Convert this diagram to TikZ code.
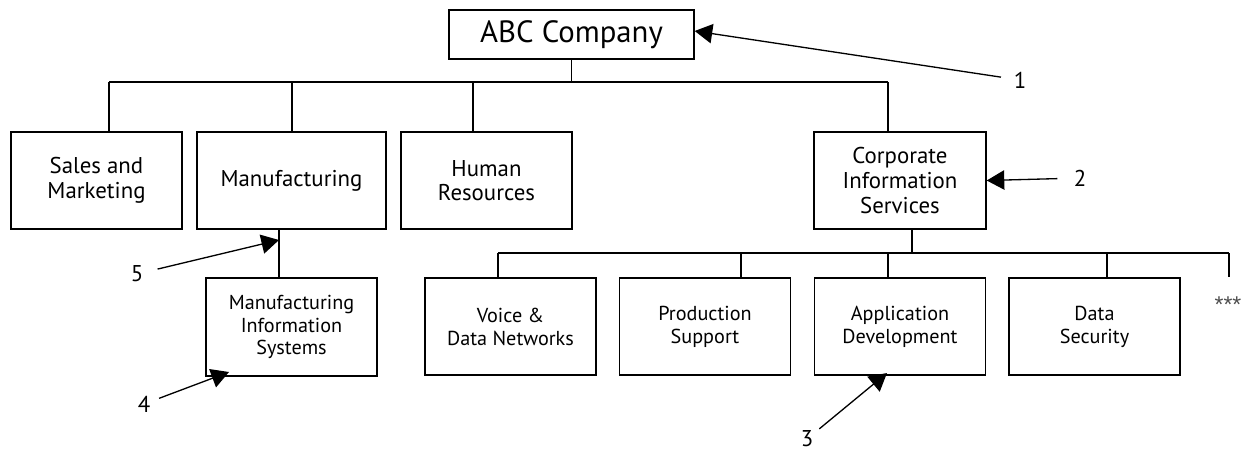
\documentclass[tikz,border=0pt]{standalone}
\usepackage{fontspec}
\setmainfont{PT Sans}
\newfontfamily\starfont{Liberation Sans}
\usetikzlibrary{arrows.meta}

\begin{document}
\begin{tikzpicture}[ x=0.02cm, y=-0.02cm, line width=0.75pt,
    unit/.style={ draw, line width=0.8pt, minimum width=3.42cm,
    minimum height=1.94cm, align=center, inner sep=0pt,
    font=\fontsize{13}{14}\selectfont },
    subunit/.style={ unit, font=\fontsize{11.5}{13}\selectfont },
    callout/.style={ -{Triangle[length=10pt,width=11pt]} },
    num/.style={ inner sep=0pt, font=\fontsize{13}{14}\selectfont } ]
  \useasboundingbox (0,0) rectangle (1243,451);
  \node[unit,minimum width=4.9cm,minimum height=0.98cm,
    font=\fontsize{17.5}{20}\selectfont] (abc) at (571.5,34.5) {ABC Company};
  \node[unit] (sales) at (96.5,180.5) {Sales and\\Marketing};
  \node[unit,minimum width=3.78cm] (mfg) at (291.5,180.5) {Manufacturing};
  \node[unit] (hr) at (486.5,180.5) {Human\\Resources};
  \node[unit,minimum width=3.44cm] (cis) at (900,180.5) {Corporate\\Information\\Services};
  \node[subunit,minimum height=1.96cm] (mis) at (291.5,327) {Manufacturing\\Information\\Systems};
  \foreach \n/\x/\t in {voice/510.5/{Voice \&\\Data Networks},
    prod/705/{Production\\Support}, app/900/{Application\\Development},
    sec/1094.5/{Data\\Security}}
  \node[subunit] (\n) at (\x,326.5) {\t};
  \node[font=\starfont\fontsize{13}{15}\selectfont,text=black!70,inner sep=0pt,
    anchor=base] (more) at (1228,312) {***};

  % first level
  \draw (abc.south) -- (abc.south |- 0,82);
  \draw (109,82) -- (888,82);
  \foreach \n/\x in {sales/109,mfg/292,hr/473,cis/888}
  \draw (\x,82) -- (\n.north -| \x,0);
  \draw (mfg.south -| 279,0) -- (mis.north -| 279,0);

  % second level
  \draw (cis.south -| 912,0) -- (912,253);
  \draw (498,253) -- (1229,253);
  \foreach \n/\x in {voice/498,prod/741,app/888,sec/1107}
  \draw (\x,253) -- (\n.north -| \x,0);
  \coordinate (moretop) at (1229,277);
  \draw (1229,253) -- (moretop);

  % numbered callouts
  \node[num] (n1) at (1020,80) {1};
  \node[num] (n2) at (1080,178) {2};
  \node[num] (n3) at (807,439) {3};
  \node[num] (n4) at (144,404) {4};
  \node[num] (n5) at (137,274) {5};
  \coordinate (t3) at (887,373);
  \coordinate (t4) at (229,372);
  \coordinate (t5) at (279,240);
  \draw[callout,shorten <=7pt] (n1) -- ([yshift=2pt]abc.east);
  \draw[callout,shorten <=9pt] (n2) -- (cis.east);
  \draw[callout,shorten <=4pt] (n3) -- (t3);
  \draw[callout,shorten <=5pt] (n4) -- (t4);
  \draw[callout,shorten <=8pt] (n5) -- (t5);
\end{tikzpicture}
\end{document}
